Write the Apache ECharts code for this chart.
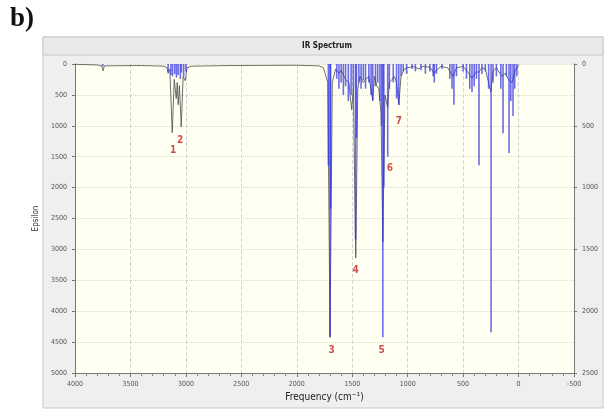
<!DOCTYPE html>
<html>
<head>
<meta charset="utf-8">
<script src="https://cdn.jsdelivr.net/npm/echarts@6/dist/echarts.min.js"></script>
<style>
  html, body { margin: 0; padding: 0; background: #fff; }
  #chart { width: 605px; height: 410px; }
</style>
</head>
<body>
<div id="chart"></div>
<script>
  // black broadened curve: [frequency, epsilon]
  var curveFreq = [4000, 3800, 3760, 3747, 3735, 3400, 3200, 3170, 3160, 3145, 3123, 3105, 3087, 3078, 3069, 3058, 3042, 3025, 3006, 2990, 2950, 2600, 2000, 1800, 1760, 1720, 1700, 1680, 1650, 1620, 1600, 1560, 1530, 1505, 1490, 1468, 1450, 1430, 1400, 1380, 1350, 1315, 1300, 1280, 1260, 1240, 1224, 1205, 1180, 1165, 1140, 1120, 1100, 1080, 1060, 1030, 1000, 950, 900, 870, 800, 760, 740, 700, 640, 590, 560, 500, 450, 420, 380, 360, 330, 300, 250, 230, 200, 150, 120, 90, 60, 30, 0];
  var curveEps = [5, 15, 30, 110, 30, 25, 35, 60, 150, 80, 1110, 250, 560, 300, 660, 350, 1020, 200, 270, 60, 35, 25, 20, 30, 60, 300, 4420, 300, 80, 150, 100, 250, 300, 740, 400, 3140, 400, 200, 300, 250, 200, 580, 200, 350, 400, 800, 2880, 500, 700, 300, 250, 200, 300, 660, 200, 80, 60, 40, 80, 40, 50, 150, 100, 40, 60, 200, 60, 40, 150, 230, 120, 140, 60, 80, 450, 120, 60, 200, 150, 250, 300, 100, 20];

  // blue sticks: [frequency, intensity on right axis]
  var stickFreq = [3750, 3160, 3135, 3120, 3100, 3085, 3070, 3050, 3040, 3020, 3000, 1715, 1700, 1695, 1640, 1620, 1600, 1580, 1560, 1535, 1510, 1490, 1470, 1462, 1440, 1420, 1400, 1380, 1350, 1330, 1315, 1290, 1270, 1250, 1235, 1224, 1215, 1180, 1165, 1130, 1100, 1080, 1060, 1040, 1010, 960, 930, 880, 840, 800, 770, 760, 740, 690, 620, 600, 583, 560, 500, 470, 440, 420, 400, 380, 357, 330, 300, 270, 248, 230, 200, 160, 140, 110, 86, 70, 50, 35, 15];
  var stickInt = [20, 60, 90, 100, 80, 110, 90, 120, 70, 100, 60, 820, 2210, 1170, 120, 200, 150, 250, 180, 300, 250, 200, 1420, 600, 150, 200, 130, 200, 150, 250, 300, 180, 150, 300, 500, 2210, 1000, 750, 200, 150, 280, 330, 100, 60, 80, 40, 60, 50, 80, 60, 100, 150, 80, 40, 120, 200, 330, 100, 60, 120, 200, 226, 180, 120, 820, 80, 60, 200, 2170, 150, 100, 200, 560, 100, 720, 300, 420, 200, 100];

  // red peak numbers placed at [frequency, epsilon]
  var peakNames = ['1', '2', '3', '4', '5', '6', '7'];
  var peakFreq = [3114, 3051, 1686, 1469, 1234, 1161, 1080];
  var peakEps = [1392, 1230, 4627, 3333, 4627, 1683, 922];

  var curveData = curveFreq.map(function (f, i) { return [f, curveEps[i]]; });
  var stickData = stickFreq.map(function (f, i) { return [f, stickInt[i]]; });
  var peakData = peakFreq.map(function (f, i) { return { name: peakNames[i], value: [f, peakEps[i]] }; });

  var narrow = "'Liberation Sans Narrow', 'DejaVu Sans Condensed', sans-serif";
  var gridLine = { show: true, lineStyle: { color: '#d6d6d6', type: 'dotted', width: 1 } };
  var tickLabel = { color: '#555', fontSize: 7, fontFamily: narrow, formatter: function (v) { return String(v); } };

  var chart = echarts.init(document.getElementById('chart'));
  chart.setOption({
    animation: false,
    backgroundColor: '#fff',
    graphic: [
      { type: 'rect', z: -10, shape: { x: 43, y: 37, width: 560, height: 371 },
        style: { fill: '#efefef', stroke: '#c8c8c8', lineWidth: 1 } },
      { type: 'rect', z: -9, shape: { x: 43, y: 37, width: 560, height: 18 },
        style: { fill: '#e9e9e9', stroke: '#c8c8c8', lineWidth: 1 } },
      { type: 'rect', z: -8, shape: { x: 75, y: 64, width: 499, height: 309 },
        style: { fill: '#fffff2' } },
      { type: 'text', left: 10, top: 6,
        style: { text: 'b)', fill: '#111', font: "bold 27px 'Liberation Serif', serif" } },
      { type: 'text', x: 327, y: 46,
        style: { text: 'IR Spectrum', fill: '#222', textAlign: 'center', textVerticalAlign: 'middle',
          font: "bold 8px 'Liberation Sans Narrow', 'DejaVu Sans Condensed', sans-serif" } }
    ],
    grid: { left: 75, right: 31, top: 64, bottom: 37, containLabel: false, outerBoundsMode: 'none' },
    xAxis: {
      type: 'value', inverse: true, min: -500, max: 4000, interval: 500,
      name: 'Frequency (cm⁻¹)', nameLocation: 'middle', nameGap: 17,
      nameTextStyle: { color: '#222', fontSize: 10, fontFamily: narrow },
      axisLine: { onZero: false, lineStyle: { color: '#777' } },
      axisTick: { show: true, length: 4, lineStyle: { color: '#777' } },
      minorTick: { show: true, splitNumber: 5, length: 3, lineStyle: { color: '#888' } },
      axisLabel: tickLabel,
      splitLine: { show: true, lineStyle: { color: '#d6d6d6', type: 'dashed', width: 1 } }
    },
    yAxis: [
      {
        type: 'value', inverse: true, min: 0, max: 5000, interval: 500, position: 'left',
        name: 'Epsilon', nameLocation: 'middle', nameGap: 26,
        nameTextStyle: { color: '#333', fontSize: 8, fontFamily: narrow },
        axisLine: { show: true, onZero: false, lineStyle: { color: '#777' } },
        axisTick: { show: true, length: 3, lineStyle: { color: '#777' } },
        axisLabel: tickLabel,
        splitLine: gridLine
      },
      {
        type: 'value', inverse: true, min: 0, max: 2500, interval: 500, position: 'right',
        name: 'L cm² mole⁻¹ (10⁻¹)', nameLocation: 'middle', nameGap: 22, nameRotate: 90,
        nameTextStyle: { color: '#333', fontSize: 7, fontFamily: narrow },
        axisLine: { show: true, onZero: false, lineStyle: { color: '#777' } },
        axisTick: { show: true, length: 3, lineStyle: { color: '#777' } },
        axisLabel: tickLabel,
        splitLine: { show: false }
      }
    ],
    series: [
      {
        type: 'line', yAxisIndex: 0, data: curveData, symbol: 'none', z: 2,
        lineStyle: { color: '#4a4a4a', width: 0.8 }
      },
      {
        type: 'bar', yAxisIndex: 1, barWidth: 1.6, data: stickData, z: 3,
        itemStyle: { color: 'rgba(45,45,225,0.7)' }
      },
      {
        type: 'scatter', yAxisIndex: 0, data: peakData, symbolSize: 0, z: 4,
        label: { show: true, position: 'inside', formatter: '{b}', color: '#c62020',
          fontSize: 10, fontWeight: 'bold', fontFamily: narrow }
      }
    ]
  });
</script>
</body>
</html>
